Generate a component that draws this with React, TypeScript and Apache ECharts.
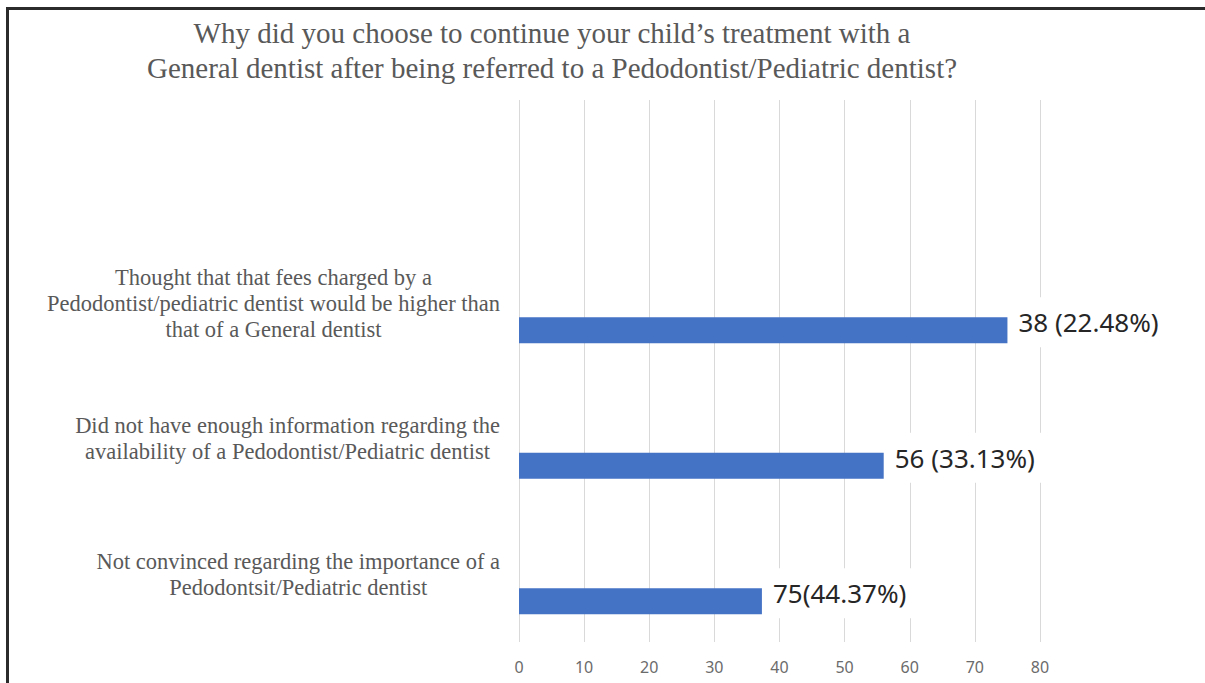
import React, { useEffect, useRef } from "react";
import * as echarts from "echarts";

const titleText =
  "Why did you choose to continue your child\u2019s treatment with a\nGeneral dentist after being referred to a Pedodontist/Pediatric dentist?";

const categories = [
  "",
  "Thought that that fees charged by a\nPedodontist/pediatric dentist would be higher than\nthat of a General dentist",
  "Did not have enough information regarding the\navailability of a Pedodontist/Pediatric dentist",
  "Not convinced regarding the importance of a\nPedodontsit/Pediatric dentist",
];

const barValues = [null, 75, 56, 37.3];
const barLabels = ["", "38 (22.48%)", "56 (33.13%)", "75(44.37%)"];

const xMin = 0;
const xMax = 80;
const xInterval = 10;

export default function App() {
  const ref = useRef<HTMLDivElement>(null);

  useEffect(() => {
    if (!ref.current) return;
    const chart = echarts.init(ref.current, null, { renderer: "svg" });
    const serif = "Liberation Serif";
    const sans = "Noto Sans";
    chart.setOption({
      animation: false,
      backgroundColor: "#ffffff",
      title: {
        text: titleText,
        left: 552,
        top: 15,
        padding: 0,
        textAlign: "center",
        textStyle: {
          fontFamily: serif,
          fontSize: 29,
          fontWeight: "normal",
          color: "#595959",
          lineHeight: 35,
        },
      },
      graphic: [
        {
          type: "line",
          shape: { x1: 7.5, y1: 7, x2: 7.5, y2: 683 },
          style: { stroke: "#2b2b2b", lineWidth: 3 },
        },
        {
          type: "line",
          shape: { x1: 6, y1: 8.5, x2: 1205, y2: 8.5 },
          style: { stroke: "#2b2b2b", lineWidth: 3 },
        },
      ],
      grid: { left: 519, right: 165, top: 100, bottom: 41, containLabel: false },
      xAxis: {
        type: "value",
        min: xMin,
        max: xMax,
        interval: xInterval,
        axisLine: { show: false },
        axisTick: { show: false },
        splitLine: { show: true, lineStyle: { color: "#d9d9d9", width: 1 } },
        axisLabel: {
          margin: 17,
          fontFamily: sans,
          fontSize: 16,
          color: "#6b6b6b",
        },
      },
      yAxis: {
        type: "category",
        inverse: true,
        data: categories,
        axisLine: { show: false },
        axisTick: { show: false },
        splitLine: { show: false },
        axisLabel: {
          margin: 19,
          align: "right",
          formatter: (value: string) =>
            value
              ? value
                  .split("\n")
                  .map((l) => `{c|${l}}`)
                  .join("\n")
              : "",
          rich: {
            c: {
              align: "center",
              fontFamily: serif,
              fontSize: 22.5,
              lineHeight: 26,
              color: "#595959",
            },
          },
        },
      },
      series: [
        {
          type: "bar",
          name: "spacer",
          data: categories.map(() => null),
          barWidth: 26,
          barGap: "107.7%",
          silent: true,
        },
        {
          type: "bar",
          name: "Responses",
          data: barValues,
          barWidth: 26,
          barGap: "107.7%",
          itemStyle: { color: "#4472C4" },
          label: {
            show: true,
            position: "right",
            distance: 3,
            offset: [0, -8],
            formatter: (p: any) => barLabels[p.dataIndex] || "",
            fontFamily: sans,
            fontSize: 26,
            color: "#262626",
            backgroundColor: "#ffffff",
            padding: [10, 8],
            lineHeight: 30,
          },
        },
      ],
    });
    return () => chart.dispose();
  }, []);

  return (
    <div
      ref={ref}
      style={{ position: "fixed", left: 0, top: 0, width: 1205, height: 683 }}
    />
  );
}
